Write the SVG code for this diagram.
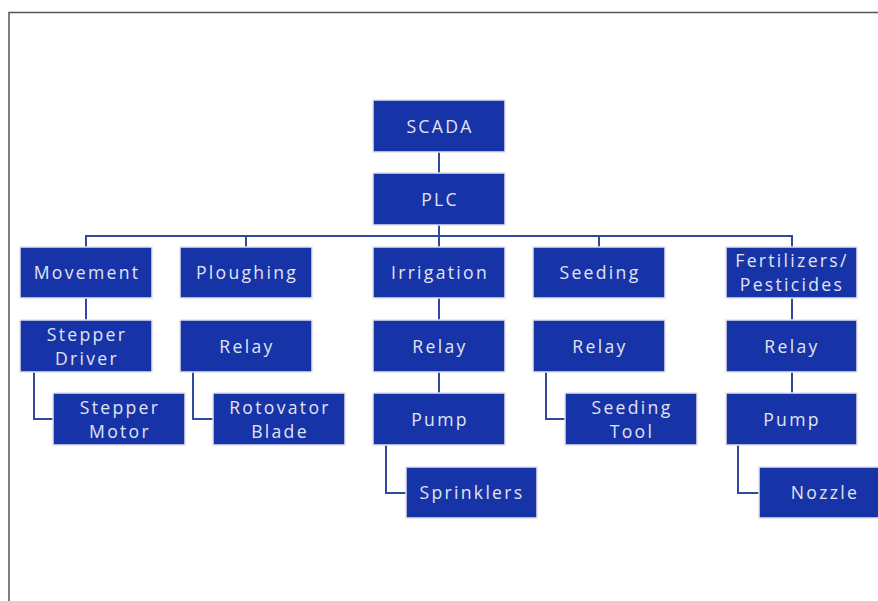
<svg xmlns="http://www.w3.org/2000/svg" width="878" height="601" viewBox="0 0 878 601">
<style>
.b{fill:#1733A8;stroke:#E4E4EA;stroke-width:1.5}
.t{font-family:"Open Sans","Noto Sans",sans-serif;font-size:17.6px;letter-spacing:2.3px;fill:#E2E4F0;text-anchor:middle;dominant-baseline:central}
.c{fill:none;stroke:#2E4A9E;stroke-width:2}
</style>
<rect x="0" y="0" width="878" height="601" fill="#fff"/>
<path d="M9 601 V12.5 H878" fill="none" stroke="#555" stroke-width="1.5"/>
<g id="connectors">
<path class="c" d="M439 152 V173"/>
<path class="c" d="M439 225 V247"/>
<path class="c" d="M86 247 V236 H792 V247"/>
<path class="c" d="M246 236 V247 M599 236 V247"/>
<path class="c" d="M86 298 V320"/>
<path class="c" d="M34 372 V419 H53"/>
<path class="c" d="M193 372 V419 H213"/>
<path class="c" d="M439 298 V320 M439 372 V393"/>
<path class="c" d="M386 445 V493 H406"/>
<path class="c" d="M546 372 V419 H565"/>
<path class="c" d="M792 298 V320 M792 372 V393"/>
<path class="c" d="M738 445 V493 H759"/>
</g>
<g id="scada"><rect class="b" x="373" y="100" width="132" height="52"/><text class="t" x="440" y="126">SCADA</text></g>
<g id="plc"><rect class="b" x="373" y="173" width="132" height="52"/><text class="t" x="440" y="199">PLC</text></g>
<g id="movement"><rect class="b" x="20" y="247" width="132" height="51"/><text class="t" x="87" y="272">Movement</text></g>
<g id="ploughing"><rect class="b" x="180" y="247" width="132" height="51"/><text class="t" x="247" y="272">Ploughing</text></g>
<g id="irrigation"><rect class="b" x="373" y="247" width="132" height="51"/><text class="t" x="440" y="272">Irrigation</text></g>
<g id="seeding"><rect class="b" x="533" y="247" width="132" height="51"/><text class="t" x="600" y="272">Seeding</text></g>
<g id="fertilizers"><rect class="b" x="726" y="247" width="131" height="51"/><text class="t" x="792" y="260">Fertilizers/</text><text class="t" x="792" y="284">Pesticides</text></g>
<g id="stepper-driver"><rect class="b" x="20" y="320" width="132" height="52"/><text class="t" x="87" y="334">Stepper</text><text class="t" x="87" y="358">Driver</text></g>
<g id="relay-plough"><rect class="b" x="180" y="320" width="132" height="52"/><text class="t" x="247" y="346">Relay</text></g>
<g id="relay-irrig"><rect class="b" x="373" y="320" width="132" height="52"/><text class="t" x="440" y="346">Relay</text></g>
<g id="relay-seed"><rect class="b" x="533" y="320" width="132" height="52"/><text class="t" x="600" y="346">Relay</text></g>
<g id="relay-fert"><rect class="b" x="726" y="320" width="131" height="52"/><text class="t" x="792" y="346">Relay</text></g>
<g id="stepper-motor"><rect class="b" x="53" y="393" width="132" height="52"/><text class="t" x="120" y="407">Stepper</text><text class="t" x="120" y="431">Motor</text></g>
<g id="rotovator"><rect class="b" x="213" y="393" width="132" height="52"/><text class="t" x="280" y="407">Rotovator</text><text class="t" x="280" y="431">Blade</text></g>
<g id="pump-irrig"><rect class="b" x="373" y="393" width="132" height="52"/><text class="t" x="440" y="419">Pump</text></g>
<g id="seeding-tool"><rect class="b" x="565" y="393" width="132" height="52"/><text class="t" x="632" y="407">Seeding</text><text class="t" x="632" y="431">Tool</text></g>
<g id="pump-fert"><rect class="b" x="726" y="393" width="131" height="52"/><text class="t" x="792" y="419">Pump</text></g>
<g id="sprinklers"><rect class="b" x="406" y="467" width="131" height="51"/><text class="t" x="472" y="492">Sprinklers</text></g>
<g id="nozzle"><rect class="b" x="759" y="467" width="130" height="51"/><text class="t" x="825" y="492">Nozzle</text></g>
</svg>
